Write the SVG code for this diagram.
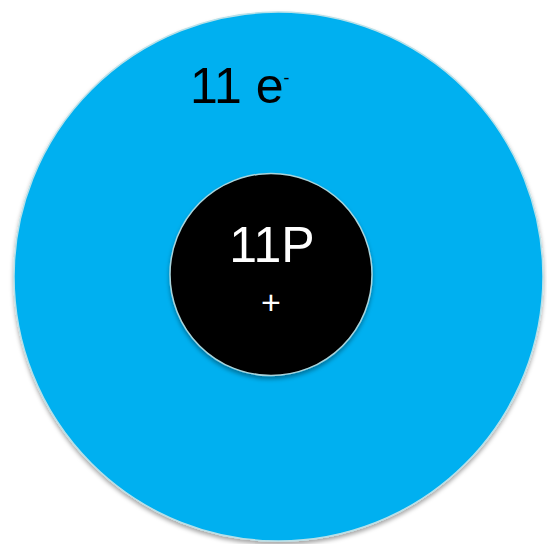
<svg xmlns="http://www.w3.org/2000/svg" width="547" height="544" viewBox="0 0 547 544">
<defs>
<filter id="sh" x="-10%" y="-10%" width="120%" height="120%">
<feDropShadow dx="0" dy="3" stdDeviation="2" flood-color="#000" flood-opacity="0.35"/>
</filter>
<style>
.t{font-family:"Liberation Sans",Arial,sans-serif;}
</style>
</defs>
<rect width="547" height="544" fill="#fff"/>
<g id="shell">
<circle cx="278.5" cy="276.5" r="264.5" fill="#00B0F0" stroke="#B8E0E8" stroke-width="1.5" filter="url(#sh)"/>
<text class="t" x="190" y="103" font-size="50" fill="#000">11 e<tspan font-size="18" dy="-19">-</tspan></text>
</g>
<g id="nucleus">
<circle cx="271" cy="274.5" r="101" fill="#000" stroke="#A8D4DC" stroke-width="1.5" filter="url(#sh)"/>
<text class="t" x="272" y="262" font-size="50" fill="#fff" text-anchor="middle">11P</text>
<text class="t" x="271" y="314" font-size="34" fill="#fff" text-anchor="middle">+</text>
</g>
<g id="connectors"/>
</svg>
